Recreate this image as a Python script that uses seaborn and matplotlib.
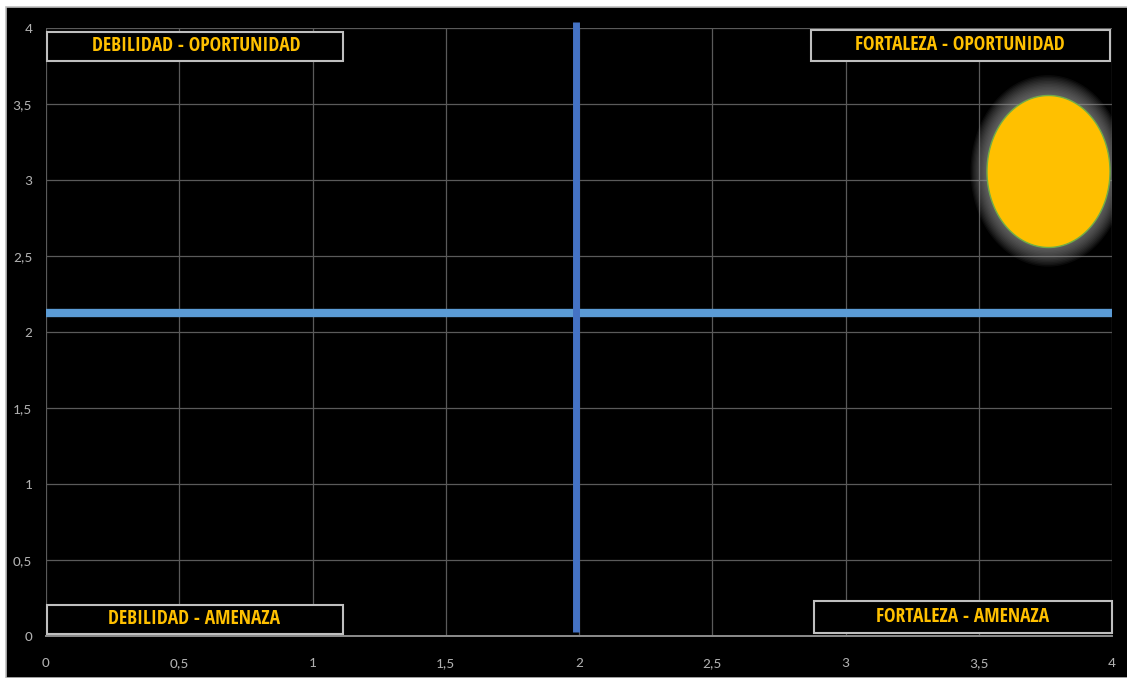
import numpy as np
import pandas as pd
import matplotlib
matplotlib.use("Agg")
import matplotlib.pyplot as plt
from matplotlib.path import Path
from matplotlib.patches import Rectangle
import seaborn as sns

# ---- data ----
bubble_x = [3.76]
bubble_y = [3.06]
h_line_x = [0.0, 4.0]
h_line_y = [2.125, 2.125]
v_line_x = [1.99, 1.99]
v_line_y = [0.025, 4.04]
x_ticks = [0, 0.5, 1, 1.5, 2, 2.5, 3, 3.5, 4]
y_ticks = [0, 0.5, 1, 1.5, 2, 2.5, 3, 3.5, 4]
tick_labels = ["0", "0,5", "1", "1,5", "2", "2,5", "3", "3,5", "4"]
quad_labels = ["DEBILIDAD - OPORTUNIDAD", "FORTALEZA - OPORTUNIDAD",
               "DEBILIDAD - AMENAZA", "FORTALEZA - AMENAZA"]
# layout of label boxes: (x0, x1, y0, y1, text_x, text_y)
quad_layout = [(0.004, 1.115, 3.783, 3.974, 0.563, 3.88),
               (2.870, 3.992, 3.783, 3.987, 3.43, 3.89),
               (0.004, 1.115, 0.013, 0.204, 0.555, 0.112),
               (2.882, 4.000, 0.020, 0.230, 3.44, 0.128)]

sns.set_theme(style="dark")
FONT = ["Carlito", "Open Sans Condensed", "DejaVu Sans"]
LABEL_FONT = ["Open Sans Condensed", "Carlito", "DejaVu Sans"]
plt.rcParams["font.family"] = FONT

W, H = 1127, 678
fig = plt.figure(figsize=(W / 100, H / 100), dpi=100, facecolor="white")
# black chart background with grey border
fig.patches.append(Rectangle((6 / W, 0), 1 - 6 / W + 0.01, (H - 7) / H,
                             transform=fig.transFigure, facecolor="black",
                             edgecolor="#BFBFBF", linewidth=1.2, zorder=-10))
ax = fig.add_axes([46 / W, 1 - 636 / H, (1112 - 46) / W, (636 - 28) / H])
ax.set_zorder(5)
ax.set_facecolor("black")
ax.set_xlim(0, 4)
ax.set_ylim(0, 4)
ax.set_xticks(x_ticks)
ax.set_yticks(y_ticks)
ax.set_xticklabels(tick_labels)
ax.set_yticklabels(tick_labels)
ax.tick_params(axis="both", length=0, colors="#B0B0B0", labelsize=11)
ax.tick_params(axis="x", pad=15)
ax.tick_params(axis="y", pad=10)
ax.grid(True, color="#5A5A5A", linewidth=0.9)
for s in ["top", "right", "left"]:
    ax.spines[s].set_visible(False)
ax.spines["bottom"].set_color("#8C8C8C")
ax.spines["bottom"].set_linewidth(1.4)
ax.set_axisbelow(True)

# quadrant lines
ax.plot(h_line_x, h_line_y, color="#5B9BD5", linewidth=6, solid_capstyle="butt",
        zorder=3, clip_on=False)
ax.plot(v_line_x, v_line_y, color="#4472C4", linewidth=5, solid_capstyle="butt",
        zorder=4, clip_on=False)

# elliptical bubble marker with soft glow
t = np.linspace(0, 2 * np.pi, 200)
ell = Path(np.column_stack([123 / 152 * np.cos(t), np.sin(t)]), closed=True)
df = pd.DataFrame({"x": bubble_x, "y": bubble_y})
base = (152 * 0.72) ** 2
for k in np.linspace(1.26, 1.01, 14):
    sns.scatterplot(data=df, x="x", y="y", ax=ax, s=base * k * k, marker=ell,
                    color="#9A9A9A", alpha=0.07, edgecolor="none", linewidth=0,
                    zorder=5, legend=False)
sns.scatterplot(data=df, x="x", y="y", ax=ax, s=base, marker=ell,
                color="#FFC000", edgecolor="#70AD47", linewidth=1.0,
                zorder=6, legend=False)
ax.set_xlabel("")
ax.set_ylabel("")

# quadrant label boxes
for lab, (x0, x1, y0, y1, tx, ty) in zip(quad_labels, quad_layout):
    ax.add_patch(Rectangle((x0, y0), x1 - x0, y1 - y0, facecolor="black",
                           edgecolor="#BFBFBF", linewidth=1.5, zorder=7,
                           clip_on=False))
    ax.text(tx, ty, lab, color="#FFC000", fontsize=14, fontweight="bold",
            ha="center", va="center", zorder=8, family=LABEL_FONT)

fig.savefig("out.png", dpi=100, facecolor="white")
